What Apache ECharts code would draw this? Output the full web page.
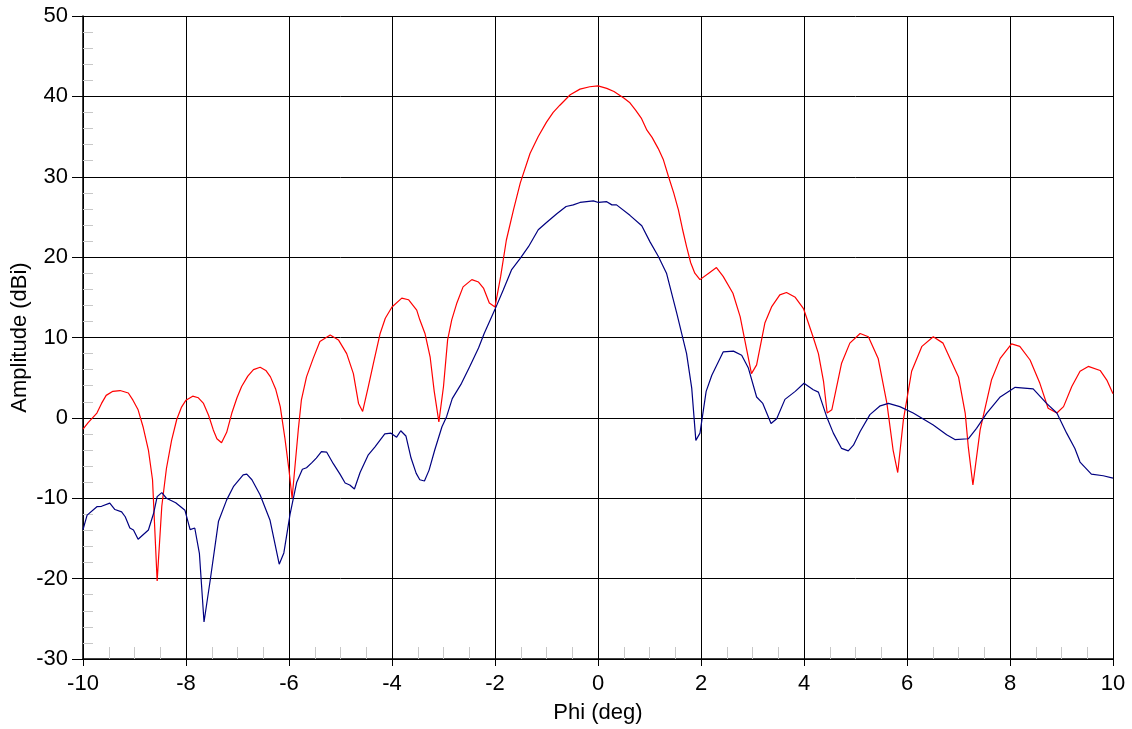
<!DOCTYPE html>
<html>
<head>
<meta charset="utf-8">
<script src="https://cdn.jsdelivr.net/npm/echarts@6/dist/echarts.min.js"></script>
<style>
html,body{margin:0;padding:0;background:#fff;}
#chart{width:1132px;height:729px;}
</style>
</head>
<body>
<div id="chart"></div>
<script>
// Red curve (Phi in deg, amplitude in dBi)
const redPhi = [-10.0,-9.9,-9.73,-9.64,-9.55,-9.42,-9.28,-9.12,-9.03,-8.93,-8.83,-8.73,-8.65,-8.56,-8.47,-8.38,-8.28,-8.18,-8.09,-8.0,-7.87,-7.76,-7.66,-7.56,-7.47,-7.4,-7.31,-7.21,-7.11,-7.01,-6.92,-6.8,-6.69,-6.56,-6.45,-6.36,-6.26,-6.17,-6.08,-6.0,-5.94,-5.82,-5.76,-5.66,-5.53,-5.4,-5.2,-5.04,-4.88,-4.75,-4.65,-4.57,-4.46,-4.36,-4.23,-4.13,-4.0,-3.81,-3.68,-3.52,-3.46,-3.36,-3.26,-3.18,-3.09,-3.0,-2.92,-2.84,-2.74,-2.62,-2.45,-2.32,-2.22,-2.11,-2.0,-1.89,-1.78,-1.64,-1.51,-1.32,-1.16,-1.0,-0.87,-0.74,-0.54,-0.35,-0.16,0.0,0.17,0.31,0.5,0.62,0.73,0.84,0.95,1.05,1.17,1.27,1.37,1.47,1.56,1.64,1.72,1.8,1.88,1.98,2.17,2.3,2.43,2.62,2.76,2.89,2.98,3.08,3.24,3.37,3.53,3.66,3.83,3.99,4.18,4.28,4.38,4.45,4.54,4.73,4.89,5.09,5.25,5.44,5.61,5.73,5.82,5.93,6.09,6.29,6.51,6.7,7.0,7.13,7.19,7.28,7.42,7.64,7.81,8.03,8.19,8.39,8.58,8.74,8.91,9.04,9.2,9.36,9.52,9.75,9.88,10.0];
const redAmp = [-1.4,-0.6,0.6,1.8,2.8,3.3,3.4,3.1,2.2,1.0,-1.2,-4.0,-7.7,-20.3,-11.0,-6.3,-2.8,-0.2,1.3,2.2,2.7,2.5,1.8,0.3,-1.5,-2.6,-3.1,-1.8,0.6,2.5,3.9,5.2,6.0,6.3,5.9,5.1,3.6,1.4,-2.5,-6.5,-10.0,-1.5,2.2,5.1,7.4,9.5,10.3,9.7,8.0,5.5,1.8,0.8,3.9,6.8,10.5,12.4,13.8,14.9,14.7,13.4,12.2,10.5,7.6,3.3,-0.5,3.9,9.7,12.2,14.3,16.3,17.2,16.9,16.1,14.3,13.8,17.6,22.1,25.9,29.2,32.9,35.0,36.8,38.0,38.9,40.2,40.9,41.2,41.3,41.0,40.6,39.8,39.2,38.3,37.3,35.8,34.9,33.5,32.1,30.0,28.0,25.9,23.5,21.3,19.3,18.0,17.2,18.1,18.7,17.6,15.5,12.6,8.4,5.5,6.6,11.8,13.8,15.3,15.6,15.0,13.6,10.0,8.0,4.5,0.6,1.0,6.8,9.3,10.5,10.1,7.4,1.8,-4.0,-6.8,-0.25,5.8,8.9,10.1,9.3,5.1,0.6,-3.6,-8.35,-1.5,4.7,7.4,9.2,8.9,7.2,4.3,1.2,0.6,1.4,3.9,5.8,6.4,5.9,4.7,3.0];

// Blue curve (Phi in deg, amplitude in dBi)
const bluePhi = [-10.0,-9.92,-9.73,-9.64,-9.48,-9.38,-9.25,-9.18,-9.09,-9.02,-8.93,-8.73,-8.63,-8.56,-8.47,-8.38,-8.2,-8.02,-7.92,-7.83,-7.74,-7.65,-7.53,-7.37,-7.21,-7.08,-6.89,-6.82,-6.72,-6.56,-6.37,-6.19,-6.1,-5.98,-5.85,-5.74,-5.66,-5.56,-5.47,-5.37,-5.27,-5.14,-5.01,-4.91,-4.82,-4.73,-4.62,-4.46,-4.33,-4.14,-4.02,-3.91,-3.83,-3.73,-3.63,-3.53,-3.46,-3.37,-3.28,-3.17,-3.03,-2.94,-2.83,-2.65,-2.49,-2.32,-2.21,-2.0,-1.84,-1.68,-1.51,-1.35,-1.16,-1.0,-0.8,-0.62,-0.48,-0.35,-0.09,0.01,0.17,0.27,0.36,0.62,0.85,1.01,1.17,1.33,1.53,1.72,1.82,1.9,1.98,2.1,2.21,2.43,2.63,2.79,2.92,3.08,3.2,3.36,3.47,3.63,3.83,4.0,4.18,4.28,4.44,4.57,4.73,4.86,4.96,5.09,5.28,5.48,5.64,5.86,6.12,6.51,6.77,6.93,7.19,7.35,7.55,7.81,8.1,8.45,8.71,8.91,9.1,9.26,9.36,9.58,9.81,10.0];
const blueAmp = [-13.9,-12.1,-11.05,-11.0,-10.6,-11.4,-11.7,-12.3,-13.7,-13.95,-15.1,-13.95,-11.9,-9.8,-9.3,-10.0,-10.55,-11.5,-13.9,-13.7,-16.85,-25.4,-20.2,-12.9,-10.2,-8.56,-7.1,-7.0,-7.7,-9.6,-12.7,-18.2,-16.8,-12.0,-8.0,-6.4,-6.2,-5.6,-5.0,-4.2,-4.25,-5.7,-7.0,-8.1,-8.35,-8.85,-6.8,-4.6,-3.6,-2.0,-1.9,-2.4,-1.6,-2.25,-5.0,-6.9,-7.7,-7.85,-6.5,-4.0,-1.1,0.15,2.4,4.3,6.4,8.7,10.5,13.5,15.9,18.4,19.85,21.3,23.4,24.3,25.4,26.3,26.5,26.8,27.0,26.8,26.9,26.5,26.5,25.2,23.9,21.9,20.1,18.0,13.0,8.0,3.7,-2.8,-1.9,3.3,5.3,8.2,8.3,7.8,6.2,2.6,1.8,-0.7,-0.1,2.3,3.3,4.3,3.5,3.2,0.15,-1.9,-3.8,-4.1,-3.4,-1.7,0.4,1.5,1.8,1.4,0.6,-0.9,-2.1,-2.7,-2.6,-1.3,0.6,2.6,3.8,3.6,1.8,0.6,-1.9,-3.8,-5.5,-7.0,-7.2,-7.5];

const xRange = [-10, 10];
const yRange = [-30, 50];
const xTitle = 'Phi (deg)';
const yTitle = 'Amplitude (dBi)';

const FONT = "'Liberation Sans', Arial, sans-serif";
const pair = (xs, ys) => xs.map((x, i) => [x, ys[i]]);

const chart = echarts.init(document.getElementById('chart'), null, {renderer: 'canvas'});
chart.setOption({
  animation: false,
  backgroundColor: '#ffffff',
  grid: {left: 83, right: 19, top: 16, bottom: 70, containLabel: false, outerBoundsMode: 'none'},
  xAxis: [{
    type: 'value', min: xRange[0], max: xRange[1], interval: 2,
    name: xTitle, nameLocation: 'middle', nameGap: 43, nameMoveOverlap: false,
    nameTextStyle: {fontFamily: FONT, fontSize: 22, color: '#000'},
    axisLine: {show: true, onZero: false, lineStyle: {color: '#000', width: 1.5}},
    axisTick: {show: true, length: 7, lineStyle: {color: '#000', width: 1}},
    axisLabel: {fontFamily: FONT, fontSize: 22, color: '#000', margin: 14},
    splitLine: {show: true, lineStyle: {color: '#000', width: 1}}
  }, {
    type: 'value', min: xRange[0], max: xRange[1], interval: 2, position: 'bottom', offset: 0,
    axisLine: {show: false, onZero: false}, axisLabel: {show: false}, splitLine: {show: false},
    axisTick: {show: false, inside: true},
    minorTick: {show: true, splitNumber: 4, length: 12, lineStyle: {color: '#c8c8c8', width: 1}}
  }],
  yAxis: [{
    type: 'value', min: yRange[0], max: yRange[1], interval: 10,
    name: yTitle, nameLocation: 'middle', nameGap: 52, nameMoveOverlap: false,
    nameTextStyle: {fontFamily: FONT, fontSize: 22, color: '#000'},
    axisLine: {show: true, onZero: false, lineStyle: {color: '#000', width: 1.5}},
    axisTick: {show: true, length: 11, lineStyle: {color: '#000', width: 1}},
    axisLabel: {fontFamily: FONT, fontSize: 22, color: '#000', margin: 15},
    splitLine: {show: true, lineStyle: {color: '#000', width: 1}}
  }, {
    type: 'value', min: yRange[0], max: yRange[1], interval: 10, position: 'left', offset: 0,
    axisLine: {show: false, onZero: false}, axisLabel: {show: false}, splitLine: {show: false},
    axisTick: {show: false, inside: true},
    minorTick: {show: true, splitNumber: 5, length: 10, lineStyle: {color: '#c8c8c8', width: 1}}
  }],
  series: [{
    type: 'line', xAxisIndex: 0, yAxisIndex: 0,
    data: pair(redPhi, redAmp), showSymbol: false, smooth: false,
    lineStyle: {color: '#ff0000', width: 1.2}, itemStyle: {color: '#ff0000'}
  }, {
    type: 'line', xAxisIndex: 0, yAxisIndex: 0,
    data: pair(bluePhi, blueAmp), showSymbol: false, smooth: false,
    lineStyle: {color: '#000080', width: 1.2}, itemStyle: {color: '#000080'}
  }]
});
</script>
</body>
</html>
